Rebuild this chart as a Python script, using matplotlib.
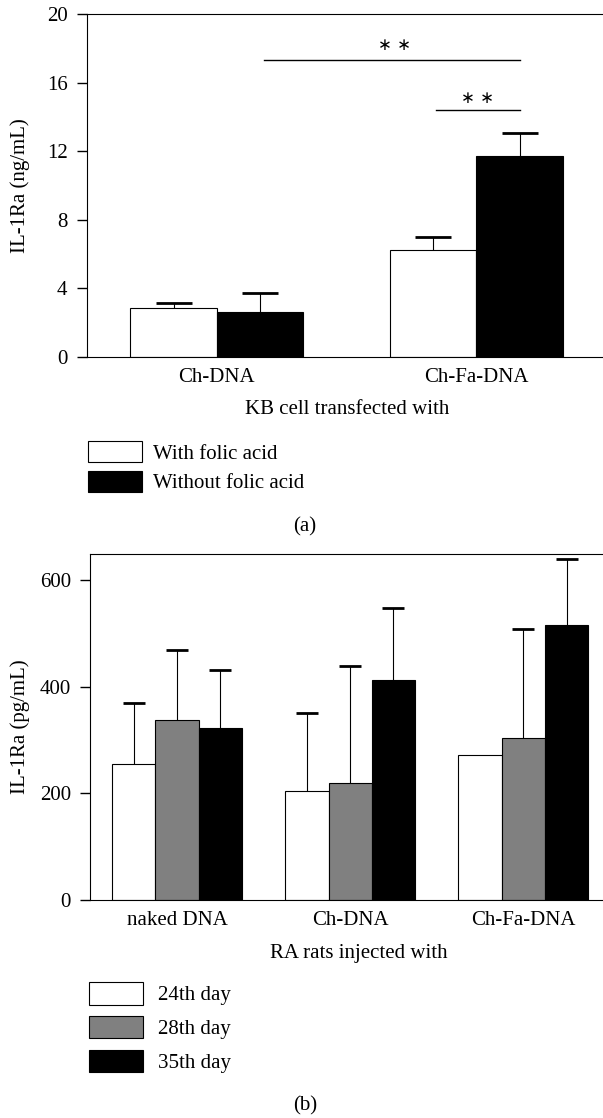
import numpy as np
import matplotlib
matplotlib.use("Agg")
import matplotlib.pyplot as plt

plt.rcParams['font.family'] = ['Liberation Serif', 'DejaVu Serif']
plt.rcParams['font.size'] = 15

# panel (a)
cells = ["Ch-DNA", "Ch-Fa-DNA"]
with_fa = [2.84, 6.24]
with_fa_err = [0.33, 0.77]
without_fa = [2.64, 11.72]
without_fa_err = [1.11, 1.32]
labels_a = ["With folic acid", "Without folic acid"]

# panel (b)
groups = ["naked DNA", "Ch-DNA", "Ch-Fa-DNA"]
day24 = [256, 205, 272]
day24_err = [113, 146, np.nan]
day28 = [337, 219, 303]
day28_err = [131, 219, 206]
day35 = [322, 412, 515]
day35_err = [109, 135, 124]
labels_b = ["24th day", "28th day", "35th day"]


def up_bar(ax, x, h, err, w, color, label, capsize):
    n = len(h)
    b = ax.bar(x, h, w, color=color, edgecolor='black', linewidth=0.8,
               yerr=[np.zeros(n), err], capsize=capsize, label=label,
               error_kw=dict(elinewidth=0.8, capthick=2.0, ecolor='black'))
    # only the upper cap is drawn in the original
    b.errorbar.lines[1][0].set_visible(False)
    return b


fig = plt.figure(figsize=(6.03, 11.18), dpi=100)

# ---- (a)
ax1 = fig.add_axes([87 / 603, 1 - 357 / 1118, 1 - 87 / 603, 343 / 1118])
x = np.arange(len(cells))
w = 1 / 3
up_bar(ax1, x - w / 2, with_fa, with_fa_err, w, 'white', labels_a[0], 13)
up_bar(ax1, x + w / 2, without_fa, without_fa_err, w, 'black', labels_a[1], 13)
ax1.set_xlim(-0.5, 1.488)
ax1.set_ylim(0, 20)
ax1.set_yticks([0, 4, 8, 12, 16, 20])
ax1.set_xticks(x)
ax1.set_xticklabels(cells)
ax1.tick_params(axis='y', direction='out', length=7, width=1, pad=7)
ax1.tick_params(axis='x', length=0, pad=8)
ax1.spines['right'].set_visible(False)
ax1.set_ylabel("IL-1Ra (ng/mL)")
ax1.yaxis.set_label_coords(-0.110, 0.5)
ax1.set_xlabel("KB cell transfected with")
ax1.xaxis.set_label_coords(0.504, -0.125)

# significance marks
ax1.plot([0.181, 1 + w / 2], [17.32, 17.32], color='black', lw=1)
ax1.text(0.683, 18.19, "∗ ∗", ha='center', va='center', fontsize=12, family='DejaVu Sans')
ax1.plot([0.844, 1 + w / 2], [14.4, 14.4], color='black', lw=1)
ax1.text(1.003, 15.1, "∗ ∗", ha='center', va='center', fontsize=12, family='DejaVu Sans')

ax1.legend(loc='upper left', bbox_to_anchor=(88 / 603, 1 - 441 / 1118), bbox_transform=fig.transFigure,
           frameon=False, borderpad=0, borderaxespad=0, handlelength=2.6, handleheight=1.2,
           labelspacing=0.33, handletextpad=0.53)
fig.text(305 / 603, 1 - 527 / 1118, "(a)", ha='center', va='center')

# ---- (b)
ax2 = fig.add_axes([90.4 / 603, 1 - 900 / 1118, 1 - 90.4 / 603, 346 / 1118])
xb = np.arange(len(groups))
wb = 0.25
up_bar(ax2, xb - wb, day24, day24_err, wb, 'white', labels_b[0], 8)
up_bar(ax2, xb, day28, day28_err, wb, '#808080', labels_b[1], 8)
up_bar(ax2, xb + wb, day35, day35_err, wb, 'black', labels_b[2], 8)
ax2.set_xlim(-0.5, 2.46)
ax2.set_ylim(0, 649)
ax2.set_yticks([0, 200, 400, 600])
ax2.set_xticks(xb)
ax2.set_xticklabels(groups)
ax2.tick_params(axis='y', direction='out', length=7, width=1, pad=7)
ax2.tick_params(axis='x', length=0, pad=8)
ax2.spines['right'].set_visible(False)
ax2.set_ylabel("IL-1Ra (pg/mL)")
ax2.yaxis.set_label_coords(-0.118, 0.5)
ax2.set_xlabel("RA rats injected with")
ax2.xaxis.set_label_coords(0.524, -0.127)

ax2.legend(loc='upper left', bbox_to_anchor=(89 / 603, 1 - 982 / 1118), bbox_transform=fig.transFigure,
           frameon=False, borderpad=0, borderaxespad=0, handlelength=2.6, handleheight=1.3,
           labelspacing=0.5, handletextpad=0.72)
fig.text(305 / 603, 1 - 1106 / 1118, "(b)", ha='center', va='center')

fig.savefig("out.png", dpi=100)
